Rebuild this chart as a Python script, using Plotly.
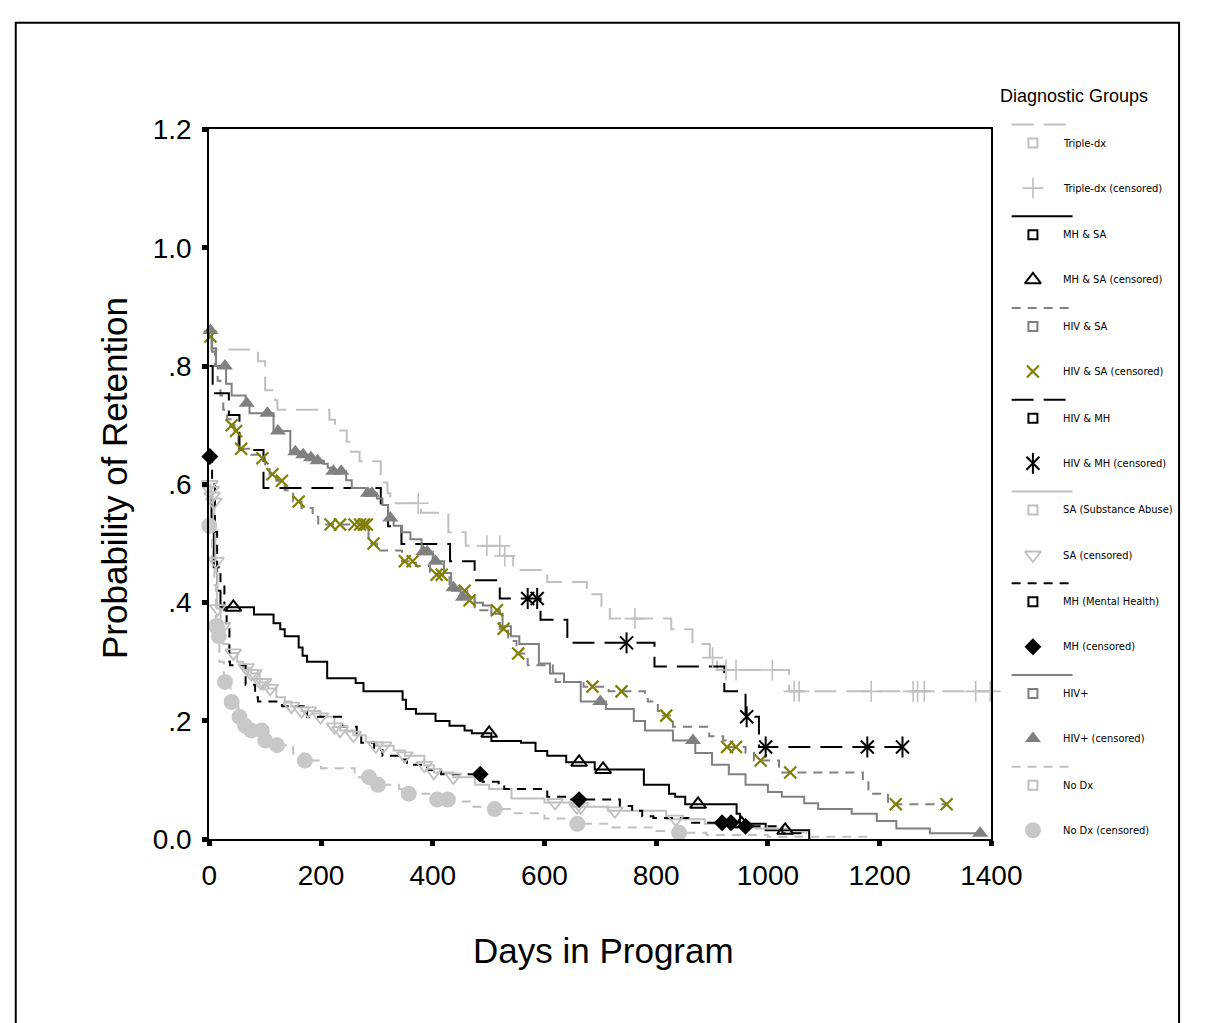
import numpy as np
import plotly.graph_objects as go

# ---------------- data ----------------
triple_days = [0, 3, 87, 100, 118, 122, 215, 225, 246, 251, 269, 307, 319, 324, 379, 428, 459, 528, 544,
               605, 676, 702, 717, 827, 865, 896, 909, 1038]
triple_surv = [.85, .828, .808, .759, .742, .726, .709, .691, .672, .655, .639, .603, .585, .568, .552, .519,
               .496, .479, .455, .435, .414, .394, .373, .355, .330, .307, .286, .250]
triple_end = 1400
triple_cens = [374, 497, 520, 529, 762, 901, 925, 943, 1008, 1047, 1056, 1185, 1260, 1268, 1280, 1372, 1398]

mhsa_days = [0, 4, 8, 14, 20, 80, 115, 127, 135, 160, 167, 175, 211, 262, 276, 346, 352, 370, 405, 430, 457,
             470, 505, 558, 584, 605, 639, 690, 778, 823, 834, 852, 944, 950, 996, 1074]
mhsa_surv = [.58, .52, .46, .42, .392, .38, .365, .355, .343, .324, .31, .30, .272, .264, .25, .236, .22, .212,
             .20, .192, .184, .179, .166, .163, .149, .141, .13, .118, .092, .077, .072, .059, .043, .026, .015,
             .002]
mhsa_end = 1076
mhsa_cens = [43, 501, 662, 705, 875, 953, 1031]

hivsa_days = [0, 5, 10, 15, 20, 25, 32, 38, 45, 52, 75, 90, 100, 108, 120, 135, 150, 165, 185, 195, 285, 300,
              345, 370, 395, 430, 462, 475, 520, 535, 550, 570, 615, 620, 670, 715, 780, 785, 803, 812, 830,
              895, 920, 925, 960, 975, 1020, 1170, 1180, 1215]
hivsa_surv = [.85, .824, .80, .775, .75, .726, .71, .70, .69, .66, .65, .644, .63, .617, .606, .59, .571, .56,
              .545, .532, .50, .488, .47, .462, .447, .42, .404, .387, .356, .335, .314, .294, .282, .266, .258,
              .25, .24, .233, .217, .209, .19, .174, .167, .156, .146, .133, .113, .10, .077, .059]
hivsa_end = 1320
hivsa_cens = [2, 40, 48, 57, 95, 113, 130, 160, 217, 234, 260, 270, 277, 282, 294, 350, 364, 407, 416, 457,
              466, 515, 527, 553, 686, 738, 818, 927, 943, 987, 1040, 1229, 1320]

hivmh_days = [0, 6, 35, 54, 97, 307, 320, 344, 431, 475, 520, 593, 641, 797, 922, 960, 984]
hivmh_surv = [.80, .754, .717, .658, .594, .562, .529, .499, .470, .438, .407, .371, .332, .292, .250, .207,
              .156]
hivmh_end = 1241
hivmh_cens = [570, 587, 747, 962, 996, 1178, 1241]

sa_days = [0, 2, 4, 6, 9, 11, 13, 14, 20, 25, 35, 50, 60, 75, 90, 105, 120, 135, 147, 165, 199, 224, 234,
           258, 280, 298, 330, 350, 385, 402, 437, 476, 501, 541, 600, 650, 714, 818, 887, 934, 979, 1040]
sa_surv = [.60, .59, .58, .57, .52, .47, .45, .39, .36, .33, .315, .30, .29, .28, .265, .255, .24, .233, .225,
           .217, .207, .19, .184, .176, .165, .158, .15, .141, .125, .113, .105, .092, .085, .069, .062, .055,
           .048, .034, .026, .02, .018, .012]
sa_end = 1070
sa_cens = [1, 3, 5, 8, 12, 15, 24, 43, 66, 75, 80, 92, 97, 109, 147, 165, 177, 199, 224, 234, 258, 298, 312,
           350, 385, 402, 437, 619, 658, 665, 726, 835]

mh_days = [0, 5, 10, 14, 20, 27, 31, 36, 37, 65, 82, 87, 130, 175, 238, 264, 272, 295, 310, 342, 354, 390,
           415, 489, 518, 528, 605, 639, 735, 757, 775, 795, 858, 950, 1026]
mh_surv = [.647, .60, .52, .46, .43, .387, .355, .30, .294, .261, .24, .233, .225, .207, .19, .179, .163,
           .151, .141, .135, .126, .117, .11, .097, .092, .085, .072, .067, .056, .048, .039, .036, .028, .022,
           .01]
mh_end = 1074
mh_cens = [1, 485, 662, 918, 934, 960]

hiv_days = [0, 5, 12, 30, 40, 65, 72, 115, 145, 165, 180, 193, 205, 212, 220, 245, 255, 280, 300, 310, 320,
            330, 345, 360, 380, 400, 420, 433, 450, 475, 490, 505, 525, 540, 555, 590, 610, 635, 665, 710, 760,
            780, 830, 870, 900, 930, 960, 1000, 1025, 1065, 1090, 1150, 1195, 1230, 1290]
hiv_surv = [.86, .83, .80, .77, .75, .737, .72, .69, .655, .65, .645, .64, .635, .628, .622, .607, .594, .585,
            .576, .565, .543, .530, .519, .507, .486, .47, .45, .425, .409, .40, .395, .381, .36, .343, .33,
            .297, .28, .266, .233, .22, .20, .184, .167, .146, .126, .11, .092, .08, .072, .061, .051, .043,
            .031, .018, .01]
hiv_end = 1380
hiv_cens = [2, 28, 67, 104, 123, 154, 168, 182, 194, 222, 236, 284, 291, 324, 383, 390, 405, 437, 454, 700,
            866, 1380]

nodx_days = [0, 5, 9, 12, 15, 18, 26, 38, 52, 62, 75, 95, 100, 120, 150, 170, 200, 260, 290, 300, 340, 355,
             405, 430, 470, 510, 545, 600, 650, 720, 800, 840, 890, 1000]
nodx_surv = [.53, .47, .43, .36, .343, .30, .266, .232, .207, .192, .184, .174, .167, .159, .145, .133, .12,
             .105, .097, .092, .085, .077, .067, .064, .055, .051, .044, .035, .026, .02, .014, .011, .007,
             .004]
nodx_end = 1190
nodx_cens = [0, 12, 14, 17, 28, 40, 54, 64, 75, 94, 100, 121, 171, 286, 302, 357, 408, 427, 511, 659, 841]

group_names = ["Triple-dx", "MH & SA", "HIV & SA", "HIV & MH", "SA (Substance Abuse)", "MH (Mental Health)",
               "HIV+", "No Dx"]
censored_names = ["Triple-dx (censored)", "MH & SA (censored)", "HIV & SA (censored)", "HIV & MH (censored)",
                  "SA (censored)", "MH (censored)", "HIV+ (censored)", "No Dx (censored)"]

x_ticks = [0, 200, 400, 600, 800, 1000, 1200, 1400]
y_ticks = [0, .2, .4, .6, .8, 1.0, 1.2]
y_tick_text = ["0.0", ".2", ".4", ".6", ".8", "1.0", "1.2"]

# ---------------- styles ----------------
BLACK, GRAY, LGRAY, OLIVE = "#000000", "#808080", "#c0c0c0", "#808000"
LONG = "22px,10px"
SHORT = "9px,7px"

series = [
    (triple_days, triple_surv, triple_end, triple_cens,
     dict(color=LGRAY, dash=LONG),
     [dict(symbol="cross-thin", size=15, color=LGRAY, line=dict(color=LGRAY, width=1.6))]),
    (mhsa_days, mhsa_surv, mhsa_end, mhsa_cens,
     dict(color=BLACK, dash="solid"),
     [dict(symbol="triangle-up-open", size=14, color=BLACK, line=dict(color=BLACK, width=2))]),
    (hivsa_days, hivsa_surv, hivsa_end, hivsa_cens,
     dict(color=GRAY, dash=SHORT),
     [dict(symbol="x-thin", size=12, color=OLIVE, line=dict(color=OLIVE, width=2.2))]),
    (hivmh_days, hivmh_surv, hivmh_end, hivmh_cens,
     dict(color=BLACK, dash=LONG),
     [dict(symbol="x-thin", size=13, color=BLACK, line=dict(color=BLACK, width=2)),
      dict(symbol="line-ns", size=15, color=BLACK, line=dict(color=BLACK, width=2))]),
    (sa_days, sa_surv, sa_end, sa_cens,
     dict(color=LGRAY, dash="solid"),
     [dict(symbol="triangle-down-open", size=14, color=LGRAY, line=dict(color=LGRAY, width=1.8))]),
    (mh_days, mh_surv, mh_end, mh_cens,
     dict(color=BLACK, dash=SHORT),
     [dict(symbol="diamond", size=13, color=BLACK, line=dict(width=0))]),
    (hiv_days, hiv_surv, hiv_end, hiv_cens,
     dict(color=GRAY, dash="solid"),
     [dict(symbol="triangle-up", size=14, color=GRAY, line=dict(width=0))]),
    (nodx_days, nodx_surv, nodx_end, nodx_cens,
     dict(color=LGRAY, dash=SHORT),
     [dict(symbol="circle", size=16, color="#c8c8c8", line=dict(width=0))]),
]
square_colors = [LGRAY, BLACK, GRAY, BLACK, LGRAY, BLACK, GRAY, LGRAY]

W, H = 1212, 1023
PL, PR, PT, PB = 208, 1016, 118, 850
FONT = "Liberation Sans, Arial, sans-serif"
NARROW = "DejaVu Sans Condensed, Liberation Sans, sans-serif"

fig = go.Figure()

# step curves
for days, surv, end, cens, lst, msyms in series:
    fig.add_trace(go.Scatter(x=list(days) + [end], y=list(surv) + [surv[-1]], mode="lines",
                             line=dict(shape="hv", width=2, color=lst["color"], dash=lst["dash"]),
                             hoverinfo="skip", showlegend=False, xaxis="x", yaxis="y"))

# censored markers (placed on their own curve)
for days, surv, end, cens, lst, msyms in series:
    d = np.array(days, dtype=float)
    s = np.array(surv, dtype=float)
    c = np.array(cens, dtype=float)
    idx = np.clip(np.searchsorted(d, c, side="right") - 1, 0, len(s) - 1)
    cy = s[idx]
    for m in msyms:
        fig.add_trace(go.Scatter(x=c, y=cy, mode="markers", marker=m, cliponaxis=False,
                                 hoverinfo="skip", showlegend=False, xaxis="x", yaxis="y"))

# ---------------- legend drawn in pixel space ----------------
annotations = []
LX0, LX1, MX, TX = 1037, 1100, 1059, 1088
for i in range(8):
    base = 132 + 94.6 * i
    lst = series[i][4]
    fig.add_trace(go.Scatter(x=[LX0, LX1], y=[base - 19, base - 19], mode="lines",
                             line=dict(width=2, color=lst["color"], dash=lst["dash"]),
                             hoverinfo="skip", showlegend=False, xaxis="x2", yaxis="y2"))
    fig.add_trace(go.Scatter(x=[MX], y=[base], mode="markers",
                             marker=dict(symbol="square-open", size=9, color=square_colors[i],
                                         line=dict(width=2, color=square_colors[i])),
                             hoverinfo="skip", showlegend=False, xaxis="x2", yaxis="y2"))
    for m in series[i][5]:
        fig.add_trace(go.Scatter(x=[MX], y=[base + 46.5], mode="markers", marker=m,
                                 hoverinfo="skip", showlegend=False, xaxis="x2", yaxis="y2"))
    annotations.append(dict(x=TX, y=base, xref="x2", yref="y2", text=group_names[i], showarrow=False,
                            xanchor="left", yanchor="middle", font=dict(family=NARROW, size=11, color="black")))
    annotations.append(dict(x=TX, y=base + 46.5, xref="x2", yref="y2", text=censored_names[i],
                            showarrow=False, xanchor="left", yanchor="middle",
                            font=dict(family=NARROW, size=11, color="black")))

annotations.append(dict(x=1023, y=84, xref="x2", yref="y2", text="Diagnostic Groups", showarrow=False,
                        xanchor="left", yanchor="middle", font=dict(family=FONT, size=18, color="black")))
annotations.append(dict(x=110 / W, y=1 - 477 / H, xref="paper", yref="paper", text="Probability of Retention",
                        textangle=-90, showarrow=False, xanchor="center", yanchor="middle",
                        font=dict(family=FONT, size=35, color="black")))
annotations.append(dict(x=615 / W, y=1 - 965 / H, xref="paper", yref="paper", text="Days in Program",
                        showarrow=False, xanchor="center", yanchor="middle",
                        font=dict(family=FONT, size=35, color="black")))

axis_common = dict(showline=True, linewidth=2, linecolor="black", mirror=True, showgrid=False,
                   zeroline=False, ticks="outside", ticklen=5, tickwidth=5, tickcolor="black",
                   tickfont=dict(family=FONT, size=28, color="black"), ticklabelstandoff=5,
                   fixedrange=True)

fig.update_layout(
    width=W, height=H, autosize=False,
    margin=dict(l=0, r=0, t=0, b=0, pad=0),
    paper_bgcolor="white", plot_bgcolor="rgba(0,0,0,0)",
    showlegend=False,
    xaxis=dict(domain=[PL / W, PR / W], range=[0, 1400], tickvals=x_ticks, anchor="y", **axis_common),
    yaxis=dict(domain=[(H - PB) / H, (H - PT) / H], range=[0, 1.2], tickvals=y_ticks, ticktext=y_tick_text,
               anchor="x", **axis_common),
    xaxis2=dict(domain=[0, 1], range=[0, W], visible=False, anchor="y2", fixedrange=True),
    yaxis2=dict(domain=[0, 1], range=[H, 0], visible=False, anchor="x2", fixedrange=True),
    annotations=annotations,
    shapes=[dict(type="rect", xref="paper", yref="paper", x0=8 / W, x1=1210 / W, y0=-0.02, y1=1 - 8 / H,
                 line=dict(color="black", width=2), fillcolor="rgba(0,0,0,0)", layer="below")],
)

fig.write_html("out.html", config={"displayModeBar": False, "responsive": False},
               post_script="document.body.style.margin='0';document.body.style.padding='0';"
                           "document.body.style.overflow='hidden';")
